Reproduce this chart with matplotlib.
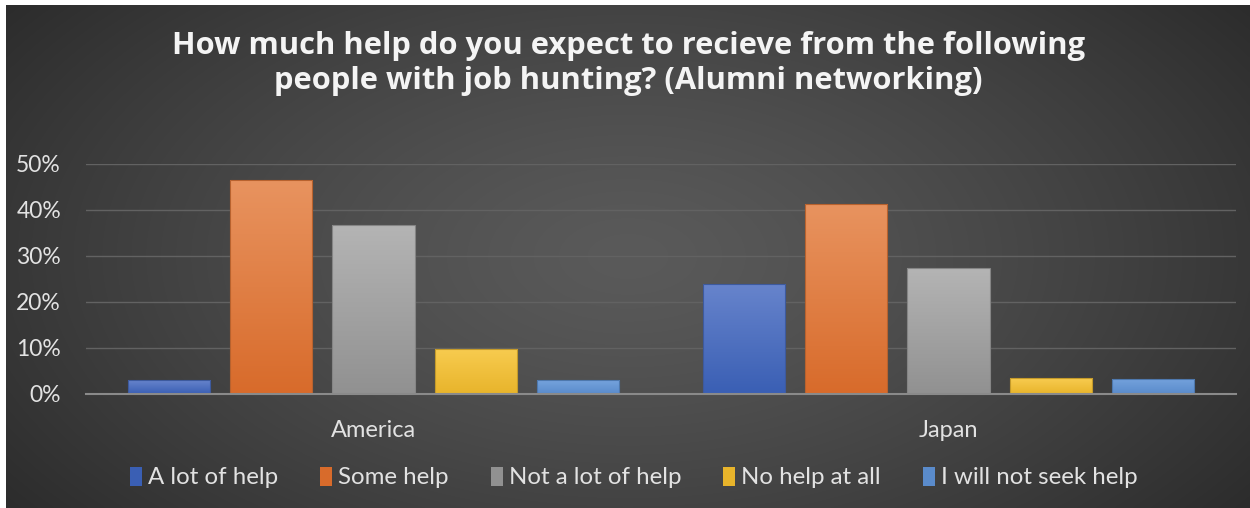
import numpy as np
import matplotlib
matplotlib.use("Agg")
import matplotlib.pyplot as plt
from matplotlib.patches import Rectangle, Patch
from matplotlib.colors import to_rgb
from matplotlib.ticker import PercentFormatter

countries = ["America", "Japan"]
answers = ["A lot of help", "Some help", "Not a lot of help", "No help at all", "I will not seek help"]
a_lot = [0.03, 0.24]
some = [0.465, 0.412]
not_a_lot = [0.367, 0.273]
none_at_all = [0.098, 0.034]
no_seek = [0.03, 0.033]
yticks = [0, 0.1, 0.2, 0.3, 0.4, 0.5]

series = [a_lot, some, not_a_lot, none_at_all, no_seek]
# (top, bottom) shades of the bar gradients
shades = [("#6784cc", "#3a5fb4"),
          ("#e8935f", "#d86b2b"),
          ("#b4b4b4", "#919191"),
          ("#f8cc50", "#e8b42b"),
          ("#75a3dd", "#5a8bcb")]
edges = ["#3d5a9e", "#b8622e", "#858585", "#c49a2a", "#4e78ad"]

W, H = 1250, 508
fig = plt.figure(figsize=(W / 100, H / 100), dpi=100, facecolor="white")

# dark background with a soft light spot in the middle
bg = fig.add_axes([6 / W, 0, 1 - 6 / W, 1 - 5 / H], zorder=-10)
yy, xx = np.mgrid[0:1:300j, 0:1:600j]
r = np.sqrt(((xx - 0.5) / 0.62) ** 2 + ((yy - 0.5) / 0.85) ** 2)
r = np.clip(r, 0, 1)
inner, outer = np.array(to_rgb("#5a5a5a")), np.array(to_rgb("#2c2c2c"))
img = inner + (outer - inner) * r[..., None] ** 1.3
bg.imshow(img, aspect="auto", extent=[0, 1, 0, 1], interpolation="bilinear")
bg.set_axis_off()

ax = fig.add_axes([86 / W, 1 - 394 / H, 1150 / W, 230 / H])
ax.set_facecolor("none")

x = np.arange(len(countries))
step, width = 0.178, 0.143

for i, vals in enumerate(series):
    top, bot = np.array(to_rgb(shades[i][0])), np.array(to_rgb(shades[i][1]))
    grad = top + (bot - top) * np.linspace(0, 1, 64)[:, None]
    grad = grad[:, None, :]
    for xc, v in zip(x + (i - 2) * step, vals):
        x0 = xc - width / 2
        rect = Rectangle((x0, 0), width, v, facecolor="none",
                         edgecolor=edges[i], linewidth=0.8, zorder=3)
        ax.add_patch(rect)
        im = ax.imshow(grad, extent=[x0, x0 + width, 0, v], aspect="auto",
                       zorder=2, interpolation="bilinear")
        im.set_clip_path(rect)

ax.set_xlim(-0.5, 1.5)
ax.set_ylim(0, 0.5)
ax.set_yticks(yticks)
ax.yaxis.set_major_formatter(PercentFormatter(1.0, decimals=0))
ax.set_xticks(x)
ax.set_xticklabels(countries)
ax.grid(axis="y", color="#626262", linewidth=1)
ax.set_axisbelow(True)
for s in ["left", "right", "top"]:
    ax.spines[s].set_visible(False)
ax.spines["bottom"].set_color("#8a8a8a")
ax.spines["bottom"].set_linewidth(1.5)
ax.spines["bottom"].set_zorder(4)
ax.tick_params(axis="both", length=0, colors="#e2e2e2")
ax.tick_params(axis="y", pad=18, labelsize=16.5)
ax.tick_params(axis="x", pad=19, labelsize=17)
for lab in ax.get_xticklabels() + ax.get_yticklabels():
    lab.set_family("Lato")

fig.text(0.503, 0.875, "How much help do you expect to recieve from the following\npeople with job hunting? (Alumni networking)",
         ha="center", va="center", color="#f4f4f4", fontsize=22.2,
         fontweight="bold", family="Open Sans", linespacing=1.26)

handles = [Patch(facecolor=shades[i][1], edgecolor="none") for i in range(len(answers))]
fig.legend(handles, answers, loc="center", bbox_to_anchor=(0.507, 0.06), ncol=5,
           frameon=False, handlelength=0.5, handleheight=0.85, handletextpad=0.25,
           columnspacing=1.75, prop={"family": "Lato", "size": 17.3}, labelcolor="#e2e2e2")

fig.savefig("out.png", dpi=100, facecolor="white")
